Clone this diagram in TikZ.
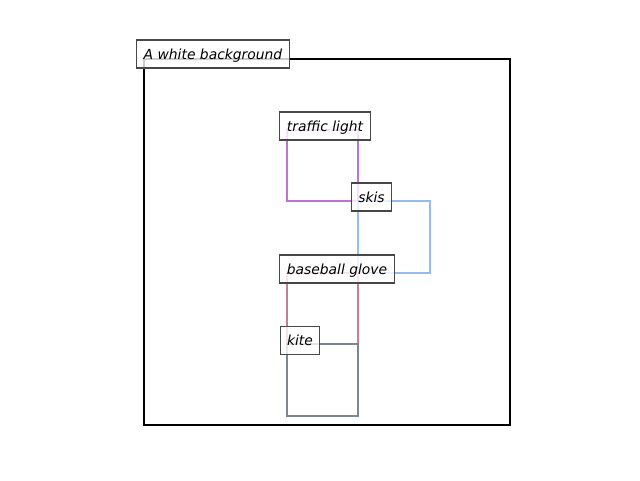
\documentclass[tikz,border=0pt]{standalone}
\usepackage{fontspec}
\setmainfont{DejaVu Sans}
\begin{document}
\begin{tikzpicture}[x=0.75pt,y=-0.75pt,
  lbl/.style={draw=black!72, line width=0.8pt, fill=white, fill opacity=0.8, text opacity=1,
    font=\fontsize{10.4}{12}\selectfont\itshape, inner xsep=5.2pt, inner ysep=0pt,
    minimum height=21pt, text height=9.2pt, text depth=1.2pt, anchor=center},
  box/.style={line width=1.6pt},
  frame/.style={line width=1.5pt, draw=black}]
\useasboundingbox (0,0) rectangle (640,480);
\definecolor{cpurple}{RGB}{191,114,208}
\definecolor{cblue}{RGB}{150,186,238}
\definecolor{cpink}{RGB}{200,124,152}
\definecolor{cgray}{RGB}{122,134,144}
\draw[frame] (144,59) rectangle (510,425);
\draw[box,cpurple] (287,130) rectangle (358,201);
\draw[box,cblue] (358,201) rectangle (430,273);
\draw[box,cpink] (287,273) rectangle (358,344);
\draw[box,cgray] (287,344) rectangle (358,416);
\node[lbl] (bg) at (213,54) {A white background};
\node[lbl] (tl) at (325,126) {traffic light};
\node[lbl] (sk) at (371.5,197) {skis};
\node[lbl] (bb) at (337,269) {baseball glove};
\node[lbl] (kt) at (300,340.5) {kite};
\end{tikzpicture}
\end{document}
